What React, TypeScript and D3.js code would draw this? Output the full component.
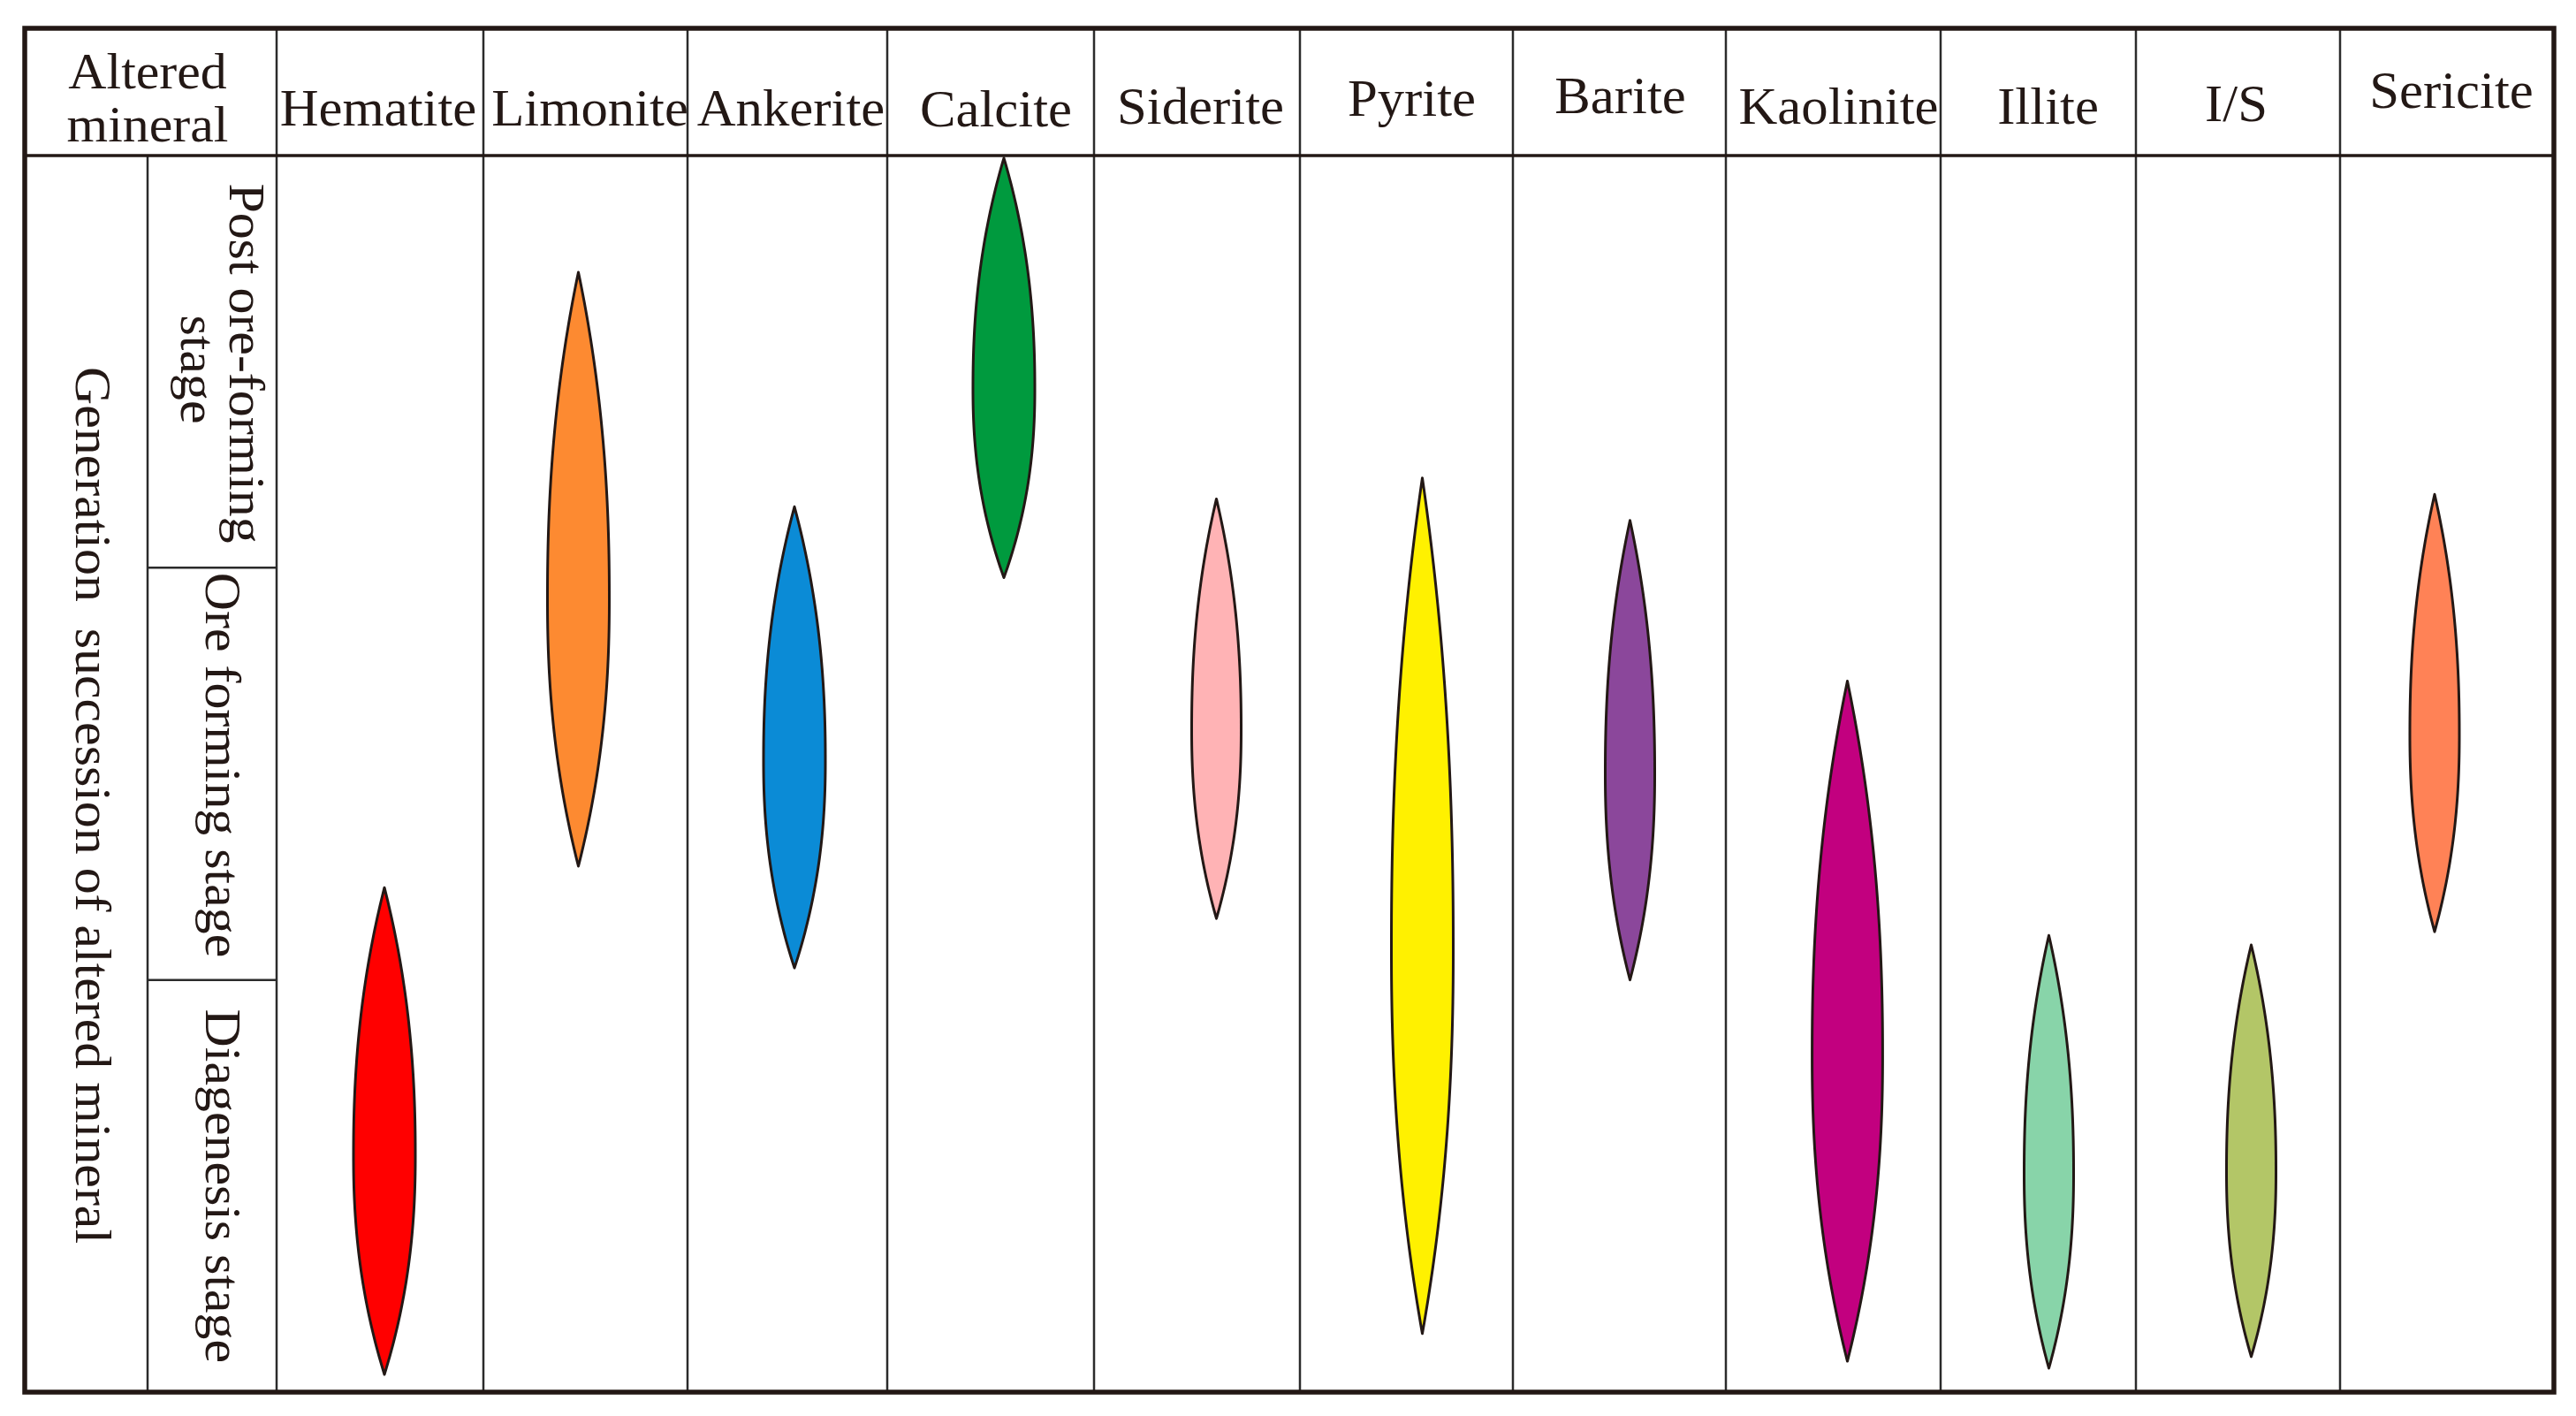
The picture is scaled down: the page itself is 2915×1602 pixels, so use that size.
import React from "react";
import * as d3 from "d3";

// ---------- data ----------
const minerals = ["Hematite", "Limonite", "Ankerite", "Calcite", "Siderite", "Pyrite", "Barite", "Kaolinite", "Illite", "I/S", "Sericite"];
const stageLabels = ["Post ore-forming stage", "Ore forming stage", "Diagenesis stage"];
// extent of each mineral on the stage axis (0 = top of post ore-forming, 3 = end of diagenesis)
const rangeStart = [1.776, 0.283, 0.852, 0.006, 0.833, 0.782, 0.885, 1.275, 1.892, 1.915, 0.822];
const rangeEnd = [2.957, 1.724, 1.971, 1.024, 1.851, 2.858, 2.0, 2.925, 2.942, 2.914, 1.883];
// relative intensity (spindle width)
const intensity = [1.0, 1.0, 1.0, 1.0, 0.8, 1.0, 0.8, 1.14, 0.8, 0.8, 0.8];
const colors = ["#ff0000", "#fd8a31", "#0b8bd6", "#009a3e", "#ffb3b5", "#fff100", "#8b479b", "#c2007f", "#88d4a9", "#b3c667", "#ff8256"];

// ---------- layout ----------
const W = 2915;
const H = 1602;
const left = 28;
const right = 2890;
const top = 32;
const headBottom = 176;
const bottom = 1575;
const innerX = 167;
const colEdges = [313, 547, 778, 1004, 1238, 1471, 1712, 1953, 2196, 2417, 2648, 2890];
const spindleShift = [5, -8, 8, 15, 22, 18, 12, 16, 12, 15, -14];
const labelBaseline = [142, 142, 142, 143, 140, 131, 128, 140, 140, 137, 122];
const labelShift = [-2, 5, 4, 6, 4, 6, 1, 6, 11, -2, 5];
const ink = "#231815";
const font = "'Liberation Serif', 'Times New Roman', serif";

function StretchText({ x, y, rot = 0, size, sx, children }: any) {
  return (
    <text
      transform={`translate(${x},${y}) rotate(${rot}) scale(${sx},1)`}
      textAnchor="middle"
      fontFamily={font}
      fontSize={size}
      fill={ink}
    >
      {children}
    </text>
  );
}

function spindlePath(cx: number, y0: number, y1: number, w: number) {
  const m = 0.55;
  const n = 80;
  const prof = (t: number) => {
    const s = t <= m ? t / m : (1 - t) / (1 - m);
    return 1 - Math.pow(1 - s, 2.2);
  };
  const ts = d3.range(n + 1).map((i) => i / n);
  const yS = d3.scaleLinear().domain([0, 1]).range([y0, y1]);
  const rightSide = ts.map((t) => [cx + (w / 2) * prof(t), yS(t)] as [number, number]);
  const leftSide = ts.slice().reverse().map((t) => [cx - (w / 2) * prof(t), yS(t)] as [number, number]);
  return d3.line()([...rightSide, ...leftSide]) + "Z";
}

export default function App() {
  const y = d3.scaleLinear().domain([0, 3]).range([headBottom, bottom]);
  const wS = d3.scaleLinear().domain([0, 1]).range([0, 70]);
  const colCenter = (i: number) => (colEdges[i] + colEdges[i + 1]) / 2;
  const lf = 57;
  const lsx = 1.05;

  return (
    <svg width={W} height={H} style={{ position: "absolute", left: 0, top: 0, background: "#fff" }}>
      <rect x={0} y={0} width={W} height={H} fill="#fff" />

      {/* spindles */}
      {minerals.map((m, i) => (
        <path
          key={m}
          d={spindlePath(colCenter(i) + spindleShift[i], y(rangeStart[i]), y(rangeEnd[i]), wS(intensity[i]))}
          fill={colors[i]}
          stroke={ink}
          strokeWidth={3}
          strokeLinejoin="round"
        />
      ))}

      {/* grid */}
      {colEdges.slice(0, -1).map((x, i) => (
        <line key={i} x1={x} x2={x} y1={top} y2={bottom} stroke="#2b2b2b" strokeWidth={2.5} />
      ))}
      <line x1={innerX} x2={innerX} y1={headBottom} y2={bottom} stroke="#2b2b2b" strokeWidth={2.5} />
      {[1, 2].map((s) => (
        <line key={s} x1={innerX} x2={colEdges[0]} y1={y(s)} y2={y(s)} stroke="#2b2b2b" strokeWidth={2.5} />
      ))}
      <line x1={left} x2={right} y1={headBottom} y2={headBottom} stroke={ink} strokeWidth={3.5} />
      <rect x={left} y={top} width={right - left} height={bottom - top} fill="none" stroke={ink} strokeWidth={5.5} />

      {/* header */}
      <StretchText x={167} y={100} size={lf} sx={lsx}>Altered</StretchText>
      <StretchText x={167} y={160} size={lf} sx={lsx}>mineral</StretchText>
      {minerals.map((m, i) => (
        <StretchText key={m} x={colCenter(i) + labelShift[i]} y={labelBaseline[i]} size={59} sx={1.03}>
          {m}
        </StretchText>
      ))}

      {/* left labels */}
      <StretchText x={86} y={911} rot={90} size={lf} sx={lsx}>
        {"Generation\u00a0\u00a0succession of altered mineral"}
      </StretchText>
      <StretchText x={260} y={411} rot={90} size={lf} sx={lsx}>Post ore-forming</StretchText>
      <StretchText x={205} y={418} rot={90} size={lf} sx={lsx}>stage</StretchText>
      <StretchText x={233} y={(y(1) + y(2)) / 2 - 10} rot={90} size={lf} sx={lsx}>{stageLabels[1]}</StretchText>
      <StretchText x={233} y={(y(2) + y(3)) / 2} rot={90} size={lf} sx={lsx}>{stageLabels[2]}</StretchText>
    </svg>
  );
}
